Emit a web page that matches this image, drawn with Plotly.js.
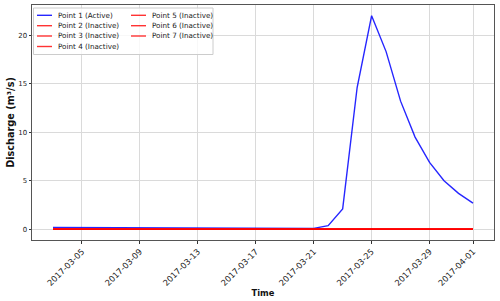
<!DOCTYPE html>
<html>
<head>
<meta charset="utf-8">
<script src="https://cdn.plot.ly/plotly-3.0.1.min.js"></script>
<style>html,body{margin:0;padding:0;background:#fff;}#chart{width:500px;height:301px;}</style>
</head>
<body>
<div id="chart"></div>
<script>
// ---- Data ----
const dates = [
  '2017-03-03','2017-03-04','2017-03-05','2017-03-06','2017-03-07','2017-03-08',
  '2017-03-09','2017-03-10','2017-03-11','2017-03-12','2017-03-13','2017-03-14',
  '2017-03-15','2017-03-16','2017-03-17','2017-03-18','2017-03-19','2017-03-20',
  '2017-03-21','2017-03-22','2017-03-23','2017-03-24','2017-03-25','2017-03-26',
  '2017-03-27','2017-03-28','2017-03-29','2017-03-30','2017-03-31','2017-04-01'
];
const point1Active = [
  0.20, 0.19, 0.18, 0.17, 0.16, 0.15, 0.14, 0.13, 0.12, 0.12, 0.11, 0.10,
  0.10, 0.09, 0.09, 0.08, 0.08, 0.07, 0.10, 0.37, 2.1, 14.6, 22.0, 18.3,
  13.2, 9.5, 6.9, 5.0, 3.7, 2.7
];
// all inactive points report zero discharge
const inactiveDischarge = [
  0, 0, 0, 0, 0, 0, 0, 0, 0, 0, 0, 0, 0, 0, 0,
  0, 0, 0, 0, 0, 0, 0, 0, 0, 0, 0, 0, 0, 0, 0
];
const seriesNames = [
  'Point 1 (Active)', 'Point 2 (Inactive)', 'Point 3 (Inactive)', 'Point 4 (Inactive)',
  'Point 5 (Inactive)', 'Point 6 (Inactive)', 'Point 7 (Inactive)'
];
const seriesValues = [
  point1Active, inactiveDischarge, inactiveDischarge, inactiveDischarge,
  inactiveDischarge, inactiveDischarge, inactiveDischarge
];
const tickDates = ['2017-03-05','2017-03-09','2017-03-13','2017-03-17','2017-03-21','2017-03-25','2017-03-29','2017-04-01'];
const tickLabels = ['2017-03-05','2017-03-09','2017-03-13','2017-03-17','2017-03-21','2017-03-25','2017-03-29','2017-04-01'];
const yTicks = [0, 5, 10, 15, 20];

// ---- Styles ----
const FONT = 'DejaVu Sans, sans-serif';
const seriesColors = [
  'rgba(0,0,255,0.85)', 'rgba(255,0,0,0.8)', 'rgba(255,0,0,0.8)', 'rgba(255,0,0,0.8)',
  'rgba(255,0,0,0.8)', 'rgba(255,0,0,0.8)', 'rgba(255,0,0,0.8)'
];
const M = {l: 32, r: 6, t: 5, b: 61};
const W = 500, H = 301;
const PW = W - M.l - M.r, PH = H - M.t - M.b;
const px = x => (x - M.l) / PW;
const py = y => (H - M.b - y) / PH;

const traces = seriesNames.map((name, i) => ({
  type: 'scatter', mode: 'lines', name: name,
  x: dates, y: seriesValues[i],
  line: {color: seriesColors[i], width: 1.4},
  showlegend: false, hoverinfo: 'x+y+name'
}));

// ---- Legend (two columns, drawn as shapes + text) ----
const shapes = [{
  type: 'rect', xref: 'paper', yref: 'paper', layer: 'above',
  x0: px(33.5), x1: px(213), y0: py(8), y1: py(54.5),
  fillcolor: 'rgba(255,255,255,0.8)', line: {color: '#cccccc', width: 1}
}];
const annotations = [];
const rowY = [15.3, 25.7, 36.0, 46.5];
const cols = [{lx0: 37, lx1: 52, tx: 56}, {lx0: 131, lx1: 146, tx: 149.5}];
seriesNames.forEach((name, i) => {
  const c = cols[i < 4 ? 0 : 1];
  const y = rowY[i < 4 ? i : i - 4];
  shapes.push({type: 'line', xref: 'paper', yref: 'paper', layer: 'above',
    x0: px(c.lx0), x1: px(c.lx1), y0: py(y), y1: py(y),
    line: {color: seriesColors[i], width: 1.4}});
  annotations.push({xref: 'paper', yref: 'paper', x: px(c.tx), y: py(y),
    xanchor: 'left', yanchor: 'middle', showarrow: false, text: name,
    font: {family: FONT, size: 7.2, color: '#1a1a1a'}});
});

const layout = {
  width: W, height: H,
  margin: M,
  paper_bgcolor: '#ffffff', plot_bgcolor: '#ffffff',
  font: {family: FONT, size: 6.94, color: '#222'},
  showlegend: false,
  xaxis: {
    type: 'date',
    range: ['2017-03-01 13:12', '2017-04-02 10:48'],
    tickmode: 'array', tickvals: tickDates, ticktext: tickLabels,
    tickangle: -45,
    ticks: 'outside', ticklen: 2.5, tickwidth: 1, tickcolor: '#333',
    tickfont: {family: FONT, size: 8.33, color: '#1a1a1a'},
    showgrid: true, gridcolor: '#dadada', gridwidth: 1,
    showline: true, linecolor: '#555', linewidth: 1, mirror: true,
    zeroline: false,
    title: {text: '<b>Time</b>', font: {family: FONT, size: 8.33, color: '#111'}, standoff: 3}
  },
  yaxis: {
    range: [-1.1, 23.1],
    tickmode: 'array', tickvals: yTicks, ticktext: yTicks.map(String),
    ticks: 'outside', ticklen: 2.5, tickwidth: 1, tickcolor: '#333',
    tickfont: {family: FONT, size: 6.94, color: '#222'},
    showgrid: true, gridcolor: '#dadada', gridwidth: 1,
    showline: true, linecolor: '#555', linewidth: 1, mirror: true,
    zeroline: false,
    title: {text: '<b>Discharge (m³/s)</b>', font: {family: FONT, size: 9.72, color: '#111'}, standoff: 1}
  },
  shapes: shapes,
  annotations: annotations
};

Plotly.newPlot('chart', traces, layout, {displayModeBar: false, staticPlot: true});
</script>
</body>
</html>
